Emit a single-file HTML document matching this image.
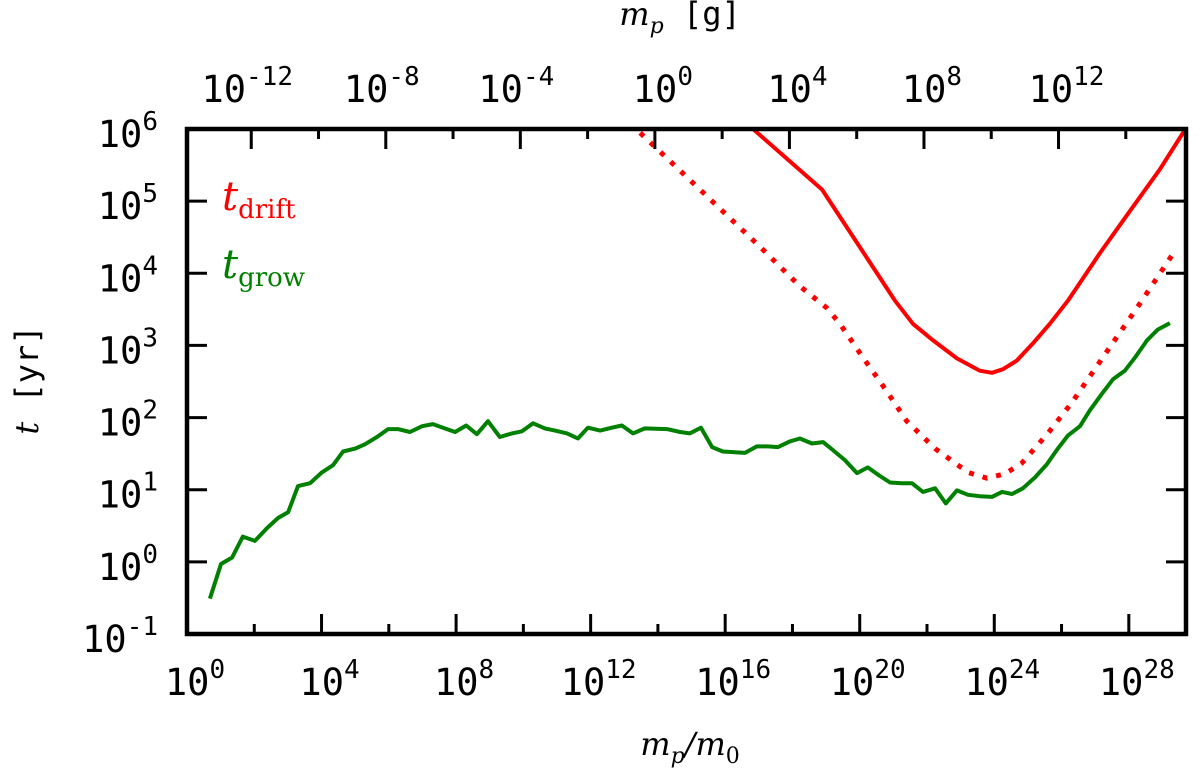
<!DOCTYPE html>
<html><head><meta charset="utf-8"><style>
html,body{margin:0;padding:0;background:#fff;}
svg{display:block;}
.tk{font-family:"DejaVu Sans Mono","Liberation Mono",monospace;font-size:37px;fill:#000;}
.sup{font-size:26px;}
.ser{font-family:"DejaVu Serif","Liberation Serif",serif;}
</style></head><body>
<svg id="chart" width="1200" height="777" viewBox="0 0 1200 777" xmlns="http://www.w3.org/2000/svg">
<defs><clipPath id="pc"><rect x="187" y="129" width="999" height="505"/></clipPath></defs>
<g id="marks" clip-path="url(#pc)"></g>
<g id="axes"></g>
</svg>
<script>
// log10(m_p/m_0) and log10(t/yr)
const growX = [0.68,1.01,1.34,1.66,2.02,2.38,2.71,3.01,3.30,3.66,4.01,4.34,4.64,5.00,5.29,5.65,5.98,6.27,6.63,6.99,7.31,7.61,7.97,8.30,8.62,8.95,9.30,9.66,9.96,10.29,10.64,10.94,11.30,11.62,11.92,12.28,12.63,12.93,13.26,13.61,14.27,14.66,14.95,15.28,15.61,15.93,16.59,16.94,17.27,17.57,17.92,18.22,18.58,18.91,19.20,19.56,19.92,20.24,20.60,20.90,21.25,21.55,21.88,22.24,22.56,22.89,23.22,23.57,23.93,24.23,24.53,24.85,25.21,25.56,25.89,26.19,26.55,26.84,27.20,27.53,27.88,28.18,28.54,28.86,29.22];
const growY = [-0.51,-0.03,0.06,0.35,0.29,0.47,0.61,0.69,1.05,1.09,1.24,1.34,1.53,1.57,1.63,1.73,1.84,1.84,1.80,1.88,1.91,1.86,1.80,1.89,1.77,1.95,1.73,1.78,1.81,1.92,1.85,1.82,1.78,1.71,1.86,1.82,1.86,1.89,1.78,1.85,1.84,1.80,1.78,1.86,1.59,1.53,1.51,1.60,1.60,1.59,1.67,1.71,1.64,1.66,1.55,1.41,1.23,1.31,1.19,1.10,1.09,1.09,0.97,1.02,0.81,0.99,0.93,0.91,0.90,0.97,0.94,1.02,1.17,1.35,1.57,1.75,1.88,2.10,2.33,2.53,2.65,2.83,3.07,3.22,3.31];
const driftX = [16.73,18.88,21.05,21.58,22.18,22.89,23.57,23.93,24.26,24.67,25.15,25.65,26.19,27.14,28.03,28.92,29.75];
const driftY = [6.04,5.16,3.62,3.30,3.07,2.82,2.65,2.62,2.67,2.79,3.03,3.30,3.62,4.28,4.86,5.44,6.05];
const drift2X = [13.17,15.25,17.03,18.22,19.02,19.41,20.07,20.75,21.40,22.24,23.22,23.78,24.32,24.82,25.59,26.31,26.99,27.65,28.33,29.37];
const drift2Y = [6.08,5.16,4.37,3.82,3.52,3.30,2.85,2.40,1.95,1.57,1.24,1.16,1.22,1.37,1.78,2.21,2.67,3.12,3.58,4.31];
const xTicks = [0,4,8,12,16,20,24,28];
const yTicks = [-1,0,1,2,3,4,5,6];
const topTicks = [-12,-8,-4,0,4,8,12];
const gramOffset = 13.91; // log10(m0 in g) = -gramOffset

const X0=187,X1=1186,Y0=129,Y1=634;
const xmin=0,xmax=29.7,ymin=-1,ymax=6;
const sx=v=>X0+(v-xmin)/(xmax-xmin)*(X1-X0);
const sy=v=>Y1-(v-ymin)/(ymax-ymin)*(Y1-Y0);
const NS="http://www.w3.org/2000/svg";
const marks=document.getElementById('marks'), axes=document.getElementById('axes');
function mk(tag,attrs,parent){const e=document.createElementNS(NS,tag);for(const k in attrs)e.setAttribute(k,attrs[k]);parent.appendChild(e);return e;}
function pts(xs,ys){return xs.map((x,i)=>sx(x).toFixed(1)+','+sy(ys[i]).toFixed(1)).join(' ');}

let l=mk('polyline',{points:pts(drift2X,drift2Y),fill:'none',stroke:'#ff0000','stroke-width':5,'stroke-dasharray':'5 9'},marks);


l=mk('polyline',{points:pts(driftX,driftY),fill:'none',stroke:'#ff0000','stroke-width':4,'stroke-linejoin':'round'},marks);


l=mk('polyline',{points:pts(growX,growY),fill:'none',stroke:'#008000','stroke-width':4,'stroke-linejoin':'round'},marks);



let f=mk('rect',{x:X0,y:Y0,width:X1-X0,height:Y1-Y0,fill:'none',stroke:'#000','stroke-width':4.5},axes);



function lab(x,y,exp,anchor,name){
  const t=mk('text',{x:x,y:y,'text-anchor':anchor,class:'tk'},axes);
  
  
  t.appendChild(document.createTextNode('10'));
  const s=mk('tspan',{class:'sup',dy:-17},t);
  s.textContent=String(exp);
}
for(let v=0;v<=29;v+=2){
  const major=v%4===0, len=major?20:10, x=sx(v);
  let t=mk('line',{x1:x,x2:x,y1:Y1,y2:Y1-len,stroke:'#000','stroke-width':3},axes);
  
  
}
xTicks.forEach(v=>lab(sx(v)+8,695,v,'middle','x-tick-label'));
for(let g=-14;g<=16;g+=2){
  const v=g+gramOffset; if(v<0||v>xmax) continue;
  const major=g%4===0, len=major?20:10, x=sx(v);
  let t=mk('line',{x1:x,x2:x,y1:Y0,y2:Y0+len,stroke:'#000','stroke-width':3},axes);
  
  
}
topTicks.forEach(g=>lab(sx(g+gramOffset)+(g<0?-4:8),102,g,'middle','top-tick-label'));
yTicks.forEach(v=>{
  const y=sy(v);
  let t=mk('line',{x1:X0,x2:X0+20,y1:y,y2:y,stroke:'#000','stroke-width':3},axes);
  
  
  let t2=mk('line',{x1:X1,x2:X1-20,y1:y,y2:y,stroke:'#000','stroke-width':3},axes);
  
  
  lab(158,y+18,v,'end','y-tick-label');
});
</script>
<svg style="position:absolute;left:0;top:0" width="1200" height="777" xmlns="http://www.w3.org/2000/svg">
<text x="222" y="210" fill="#ff0000" class="ser" font-size="40" font-style="italic">t<tspan font-style="normal" font-size="26" dy="8">drift</tspan></text>
<text x="222" y="278" fill="#008000" class="ser" font-size="40" font-style="italic">t<tspan font-style="normal" font-size="26" dy="8">grow</tspan></text>
<text x="690" y="755" text-anchor="middle" class="ser" font-size="32" font-style="italic">m<tspan font-size="22" dy="8">p</tspan><tspan dy="-8">/m</tspan><tspan font-size="22" font-style="normal" dy="8">0</tspan></text>
<text x="680" y="25" text-anchor="middle" font-size="32"><tspan class="ser" font-style="italic">m</tspan><tspan class="ser" font-style="italic" font-size="22" dy="8">p</tspan><tspan dy="-8" font-family="DejaVu Sans Mono, monospace"> [g]</tspan></text>
<text transform="translate(38,380) rotate(-90)" text-anchor="middle" font-size="32"><tspan class="ser" font-style="italic">t</tspan><tspan font-family="DejaVu Sans Mono, monospace"> [yr]</tspan></text>
</svg>
</body></html>
